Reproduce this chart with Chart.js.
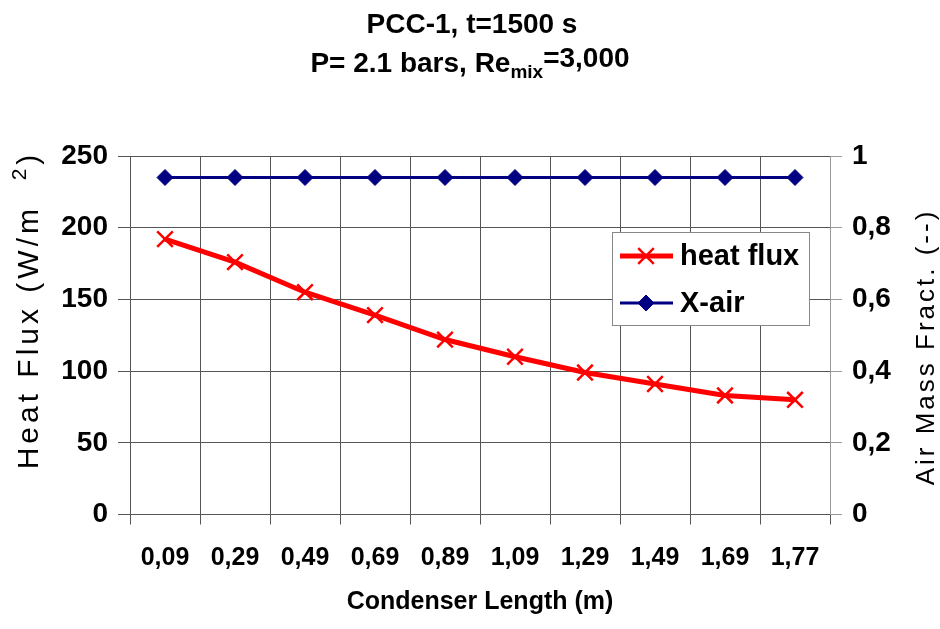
<!DOCTYPE html>
<html>
<head>
<meta charset="utf-8">
<script src="https://cdn.jsdelivr.net/npm/chart.js@4/dist/chart.umd.min.js"></script>
<style>
  html, body { margin: 0; padding: 0; background: #fff; }
  #wrap { width: 940px; height: 629px; position: relative; }
</style>
</head>
<body>
<div id="wrap"><canvas id="condChart"></canvas></div>
<script>
// Data dari grafik
const lengthLabels = ["0,09", "0,29", "0,49", "0,69", "0,89", "1,09", "1,29", "1,49", "1,69", "1,77"];
const heatFlux = [192, 176, 155, 139, 122, 110, 99, 91, 83, 80];
const xAir = [0.94, 0.94, 0.94, 0.94, 0.94, 0.94, 0.94, 0.94, 0.94, 0.94];
const heatTicks = [0, 50, 100, 150, 200, 250];
const fracTicks = [0, 0.2, 0.4, 0.6, 0.8, 1];

const FONT = '"Liberation Sans", Arial, sans-serif';
const gridColor = "#555555";

// Judul dua baris dengan subscript
const titlePlugin = {
  id: "titlePlugin",
  afterDraw(chart) {
    const ctx = chart.ctx;
    ctx.save();
    ctx.fillStyle = "#000";
    ctx.textBaseline = "alphabetic";
    ctx.font = "bold 28px " + FONT;
    ctx.textAlign = "center";
    ctx.fillText("PCC-1, t=1500 s", 472, 33);

    ctx.textAlign = "left";
    const a = "P= 2.1 bars, Re", b = "mix", c = "=3,000";
    ctx.font = "bold 28px " + FONT;
    const wa = ctx.measureText(a).width, wc = ctx.measureText(c).width;
    ctx.font = "bold 19px " + FONT;
    const wb = ctx.measureText(b).width;
    let x = 470 - (wa + wb + wc) / 2;
    ctx.font = "bold 28px " + FONT;
    ctx.fillText(a, x, 72);
    x += wa;
    ctx.font = "bold 19px " + FONT;
    ctx.fillText(b, x, 78);
    x += wb;
    ctx.font = "bold 28px " + FONT;
    ctx.fillText(c, x, 67);
    ctx.restore();
  },
};

// Judul sumbu Y (diputar)
const axisTitlePlugin = {
  id: "axisTitlePlugin",
  afterDraw(chart) {
    const ctx = chart.ctx;
    ctx.save();
    ctx.fillStyle = "#000";
    ctx.textBaseline = "middle";
    ctx.letterSpacing = "4px";

    // kiri
    ctx.translate(30, 310);
    ctx.rotate(-Math.PI / 2);
    ctx.font = "30px " + FONT;
    const p1 = "Heat Flux (W/m  ", p3 = ")";
    const w1 = ctx.measureText(p1).width, w3 = ctx.measureText(p3).width;
    ctx.font = "21px " + FONT;
    const w2 = ctx.measureText("2").width;
    let x = -(w1 + w2 + w3) / 2;
    ctx.textAlign = "left";
    ctx.font = "30px " + FONT;
    ctx.fillText(p1, x, 0);
    x += w1;
    ctx.font = "21px " + FONT;
    ctx.fillText("2", x, -10);
    x += w2;
    ctx.font = "30px " + FONT;
    ctx.fillText(p3, x, 0);
    ctx.restore();

    // kanan
    ctx.save();
    ctx.fillStyle = "#000";
    ctx.textBaseline = "middle";
    ctx.textAlign = "center";
    ctx.letterSpacing = "3px";
    ctx.font = "26px " + FONT;
    ctx.translate(927, 347);
    ctx.rotate(-Math.PI / 2);
    ctx.fillText("Air Mass Fract. (--)", 0, 0);
    ctx.restore();
  },
};

// Legenda di dalam area plot
const boxLegend = {
  id: "boxLegend",
  afterDraw(chart) {
    const ctx = chart.ctx;
    const bx = 612, by = 232, bw = 197, bh = 93;
    ctx.save();
    ctx.fillStyle = "#fff";
    ctx.fillRect(bx, by, bw, bh);
    ctx.strokeStyle = "#888";
    ctx.lineWidth = 1;
    ctx.strokeRect(bx + 0.5, by + 0.5, bw, bh);

    const rows = [256, 303];
    chart.data.datasets.forEach((ds, i) => {
      const y = rows[i];
      ctx.strokeStyle = ds.borderColor;
      ctx.lineWidth = ds.borderWidth;
      ctx.beginPath();
      ctx.moveTo(620, y);
      ctx.lineTo(673, y);
      ctx.stroke();
      ctx.fillStyle = ds.pointBackgroundColor;
      ctx.strokeStyle = ds.pointBorderColor;
      ctx.lineWidth = ds.pointBorderWidth;
      Chart.helpers.drawPoint(ctx, {
        pointStyle: ds.pointStyle,
        radius: ds.pointRadius,
        borderWidth: ds.pointBorderWidth,
        rotation: 0,
      }, 646, y);
      ctx.fillStyle = "#000";
      ctx.font = "bold 29px " + FONT;
      ctx.textBaseline = "middle";
      ctx.textAlign = "left";
      ctx.fillText(ds.label, 680, y + 1);
    });
    ctx.restore();
  },
};

function fmtComma(v) {
  return String(Math.round(v * 10) / 10).replace(".", ",");
}

const ctx = document.getElementById("condChart").getContext("2d");
new Chart(ctx, {
  type: "line",
  data: {
    labels: lengthLabels,
    datasets: [
      {
        label: "heat flux",
        data: heatFlux,
        yAxisID: "y",
        borderColor: "#ff0000",
        borderWidth: 5,
        pointStyle: "crossRot",
        pointRadius: 11,
        pointBorderWidth: 2.5,
        pointBorderColor: "#ff0000",
        pointBackgroundColor: "#ff0000",
        tension: 0,
        order: 1,
      },
      {
        label: "X-air",
        data: xAir,
        yAxisID: "y1",
        borderColor: "#000080",
        borderWidth: 3,
        pointStyle: "rectRot",
        pointRadius: 8,
        pointBorderWidth: 1,
        pointBorderColor: "#000080",
        pointBackgroundColor: "#000080",
        order: 2,
      },
    ],
  },
  options: {
    responsive: true,
    maintainAspectRatio: false,
    animation: false,
    layout: { padding: { top: 156, left: 0, right: 0, bottom: 0 } },
    plugins: {
      legend: { display: false },
      tooltip: { enabled: false },
    },
    scales: {
      x: {
        offset: true,
        grid: { offset: true, color: gridColor, tickLength: 10 },
        border: { color: gridColor },
        ticks: {
          color: "#000",
          padding: 19,
          maxRotation: 0,
          autoSkip: false,
          font: { family: FONT, size: 25, weight: "bold" },
        },
        title: {
          display: true,
          text: "Condenser Length (m)",
          color: "#000",
          padding: { top: 0, bottom: 12 },
          font: { family: FONT, size: 25, weight: "bold" },
        },
        afterFit(scale) { scale.height = 114.5; },
      },
      y: {
        position: "left",
        min: 0,
        max: 250,
        afterBuildTicks(scale) { scale.ticks = heatTicks.map((v) => ({ value: v })); },
        grid: { color: gridColor, tickLength: 12 },
        border: { color: gridColor },
        ticks: {
          color: "#000",
          padding: 10,
          font: { family: FONT, size: 28, weight: "bold" },
        },
        afterFit(scale) { scale.width = 130; },
      },
      y1: {
        position: "right",
        min: 0,
        max: 1,
        afterBuildTicks(scale) { scale.ticks = fracTicks.map((v) => ({ value: v })); },
        grid: { drawOnChartArea: false, color: "#999", tickLength: 12 },
        border: { color: "#999" },
        ticks: {
          color: "#000",
          padding: 10,
          font: { family: FONT, size: 28, weight: "bold" },
          callback: (v) => fmtComma(v),
        },
        afterFit(scale) { scale.width = 110; },
      },
    },
  },
  plugins: [titlePlugin, axisTitlePlugin, boxLegend],
});
</script>
</body>
</html>
